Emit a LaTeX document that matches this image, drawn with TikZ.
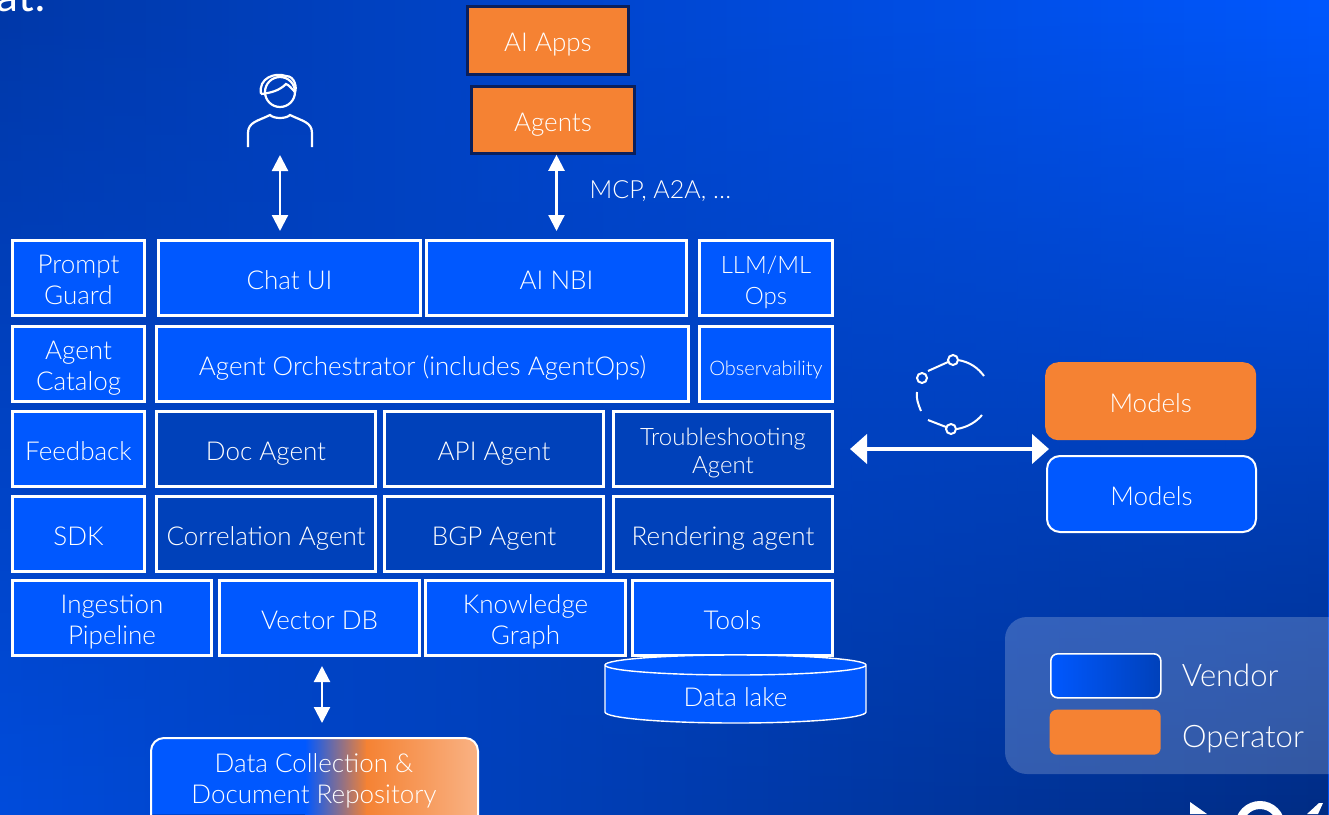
\documentclass[tikz,border=0pt]{standalone}
\usepackage{fontspec}
\setmainfont{Lato Light}
\usetikzlibrary{
    arrows.meta,
    fadings,
    positioning,
    shapes.geometric,
}
\definecolor{vendorblue}{HTML}{0058FF}
\definecolor{operatororange}{HTML}{F58233}
\definecolor{peach}{HTML}{F9B284}
\definecolor{darkrim}{HTML}{0A1F5C}
\definecolor{agentfill}{HTML}{0041BA}
\definecolor{bgtopleft}{HTML}{0038A8}
\definecolor{bgbotleft}{HTML}{004CDC}
\definecolor{bgbotright}{HTML}{002C84}
\tikzset{
    x=1pt,y=-1pt,
    every node/.style={text=white,font=\fontsize{26}{31}\selectfont,align=center,inner sep=0pt},
    cell/.style={draw=white,line width=2.8pt,fill=vendorblue,anchor=north west},
    agentcell/.style={cell,fill=agentfill},
    apptile/.style={draw=darkrim,line width=2.6pt,fill=operatororange,anchor=north west},
    modelbox/.style={rounded corners=13pt,anchor=north west},
    link/.style={draw=white,line width=2.2pt,{Triangle[width=16pt,length=16pt]}-{Triangle[width=16pt,length=16pt]}},
}
\newcommand{\lowtext}[1]{\raisebox{-11.5pt}[0pt][0pt]{\begin{tabular}{@{}c@{}}#1\end{tabular}}}
\newcommand{\cellat}[7][cell]{% style, name, x0, y0, x1, y1, text
    \node[#1,minimum width=#5pt-#3pt-2.8pt,minimum height=#6pt-#4pt-2.8pt] (#2) at (#3,#4) {\lowtext{#7}};
}
\begin{document}
\begin{tikzpicture}
    \useasboundingbox (0,0) rectangle (1329,814);
    % backdrop
    \shade[left color=bgtopleft,right color=vendorblue] (0,0) rectangle (1329,814);
    \shade[left color=bgbotleft,right color=bgbotright,path fading=north] (0,0) rectangle (1329,814);
    \node[anchor=base east,font=\fontspec{Lato}\fontsize{44}{46}\selectfont] (headline) at (46,11) {at!};
    % top row
    \cellat[apptile]{aiapps}{466}{5}{630}{76}{AI Apps}
    \cellat[apptile]{agents}{470}{85}{636}{155}{Agents}
    % stack
    \cellat{guard}{11}{239}{146}{317}{Prompt\\Guard}
    \cellat{chatui}{157}{239}{422}{317}{Chat UI}
    \cellat{ainbi}{425}{239}{688}{317}{AI NBI}
    \cellat[cell,font=\fontsize{24}{31}\selectfont]{llmops}{698}{239}{834}{317}{LLM/ML\\Ops}
    \cellat{catalog}{11}{325}{146}{403}{Agent\\Catalog}
    \cellat{orchestrator}{155}{325}{690}{403}{Agent Orchestrator (includes AgentOps)}
    \cellat[cell,font=\fontsize{20}{24}\selectfont]{observ}{698}{325}{834}{403}{Observability}
    \cellat{feedback}{11}{410}{146}{488}{Feedback}
    \cellat[agentcell]{docagent}{155}{410}{377}{488}{Doc Agent}
    \cellat[agentcell]{apiagent}{383}{410}{605}{488}{API Agent}
    \cellat[agentcell,font=\fontsize{24}{28}\selectfont]{shootagent}{612}{410}{834}{488}{Troubleshooting\\Agent}
    \cellat{sdk}{11}{495}{146}{573}{SDK}
    \cellat[agentcell]{corragent}{155}{495}{377}{573}{Correlation Agent}
    \cellat[agentcell]{bgpagent}{383}{495}{605}{573}{BGP Agent}
    \cellat[agentcell]{renderagent}{612}{495}{834}{573}{Rendering agent}
    \cellat{ingest}{11}{579}{213}{657}{Ingestion\\Pipeline}
    \cellat{vectordb}{218}{579}{421}{657}{Vector DB}
    \cellat{knowledge}{424}{579}{627}{657}{Knowledge\\Graph}
    \cellat{tools}{631}{579}{834}{657}{Tools}
    % data lake
    \draw[white,line width=1.4pt,fill=vendorblue] (605,665) -- (605,712) arc[start angle=180,end angle=360,x radius=130.5,y radius=-11] -- (866,665) arc[start angle=0,end angle=360,x radius=130.5,y radius=-10];
    \node (datalake) at (735.5,697) {Data lake};
    % data collection
    \begin{scope}
        \clip[rounded corners=13pt] (151,738) rectangle (478,850);
        \fill[vendorblue] (151,738) rectangle (306,814);
        \shade[left color=vendorblue,right color=operatororange] (305,738) rectangle (367,814);
        \shade[left color=operatororange,right color=peach] (366,738) rectangle (478,814);
    \end{scope}
    \node[draw=white,line width=2pt,rounded corners=13pt,anchor=north west,minimum width=327pt,minimum height=100pt] (datacoll) at (150,737) {};
    \node at (314,781) {Data Collection \&\\Document Repository};
    % models
    \node[modelbox,fill=operatororange,minimum width=211pt,minimum height=78pt] (modelorange) at (1045,362) {\lowtext{Models}};
    \node[modelbox,draw=white,line width=2pt,fill=vendorblue,minimum width=209pt,minimum height=76pt] (modelblue) at (1046,455) {\lowtext{Models}};
    % legend
    \fill[white,opacity=.2,rounded corners=22pt] (1005,617) rectangle (1370,774);
    \node[modelbox,rounded corners=7pt,draw=white,line width=1.6pt,left color=vendorblue,right color=agentfill,minimum width=110pt,minimum height=44pt] (vendorkey) at (1050,653) {};
    \node[modelbox,rounded corners=7pt,fill=operatororange,minimum width=111pt,minimum height=45pt] (operatorkey) at (1049.5,709.5) {};
    \node[right=20pt of vendorkey,font=\fontsize{31}{36}\selectfont] (vendorlabel) {Vendor};
    \node[right=21pt of operatorkey,yshift=-7pt,font=\fontsize{31}{36}\selectfont] (operatorlabel) {Operator};
    % connectors
    \coordinate (userfoot) at (280,155);
    \draw[link,shorten >=8pt] (userfoot) -- (userfoot |- chatui.north);
    \draw[link,shorten >=8pt] (agents.south -| ainbi.north) -- (ainbi.north);
    \draw[link,shorten <=16pt,shorten >=-3pt,line width=4.5pt,{Triangle[width=29pt,length=17pt]}-{Triangle[width=29pt,length=17pt]}] (shootagent.east) -- (shootagent.east -| modelblue.west);
    \draw[link,shorten <=9pt,shorten >=14pt] ([xshift=2.5pt]vectordb.south) -- ([xshift=2.5pt]vectordb.south |- datacoll.north);
    \node[right=33pt of ainbi.north,yshift=48pt,font=\fontsize{25}{28}\selectfont] (protolabel) {MCP, A2A, \dots};
    % user icon
    \draw[white,line width=2.2pt] (248,147) -- (248,133) .. controls (248,122) and (258,121) .. (270,115) .. controls (274,119) and (286,119) .. (290,115) .. controls (302,121) and (312,122) .. (312,133) -- (312,147);
    \draw[white,line width=2.2pt] (280,92) circle[radius=15];
    \draw[white,line width=2.2pt] (261,94) .. controls (258,78) and (275,72) .. (286,76) .. controls (295,76) and (297,88) .. (295,92) .. controls (291,88) and (289,85) .. (286,84) .. controls (279,91) and (270,93) .. (261,94);
    % cycle icon
    \draw[white,line width=2pt] (922,378) circle[radius=5] (953,360) circle[radius=5] (951,429) circle[radius=5];
    \draw[white,line width=2pt] (928,371) -- (948,362) (958,360) .. controls (970,362) and (978,368) .. (984,376) (917,392) .. controls (916,398) and (918,404) .. (921,411) (928,420) -- (946,427) (957,429) .. controls (968,427) and (976,422) .. (982,415);
    % logo
    \fill[white] (1190,814) -- (1190,802) -- (1207,814) -- cycle;
    \draw[white,line width=8pt] (1260,826) circle[radius=21];
    \fill[white] (1307,814) -- (1319,803) -- (1323,803) -- (1318,814) -- cycle;
\end{tikzpicture}
\end{document}
